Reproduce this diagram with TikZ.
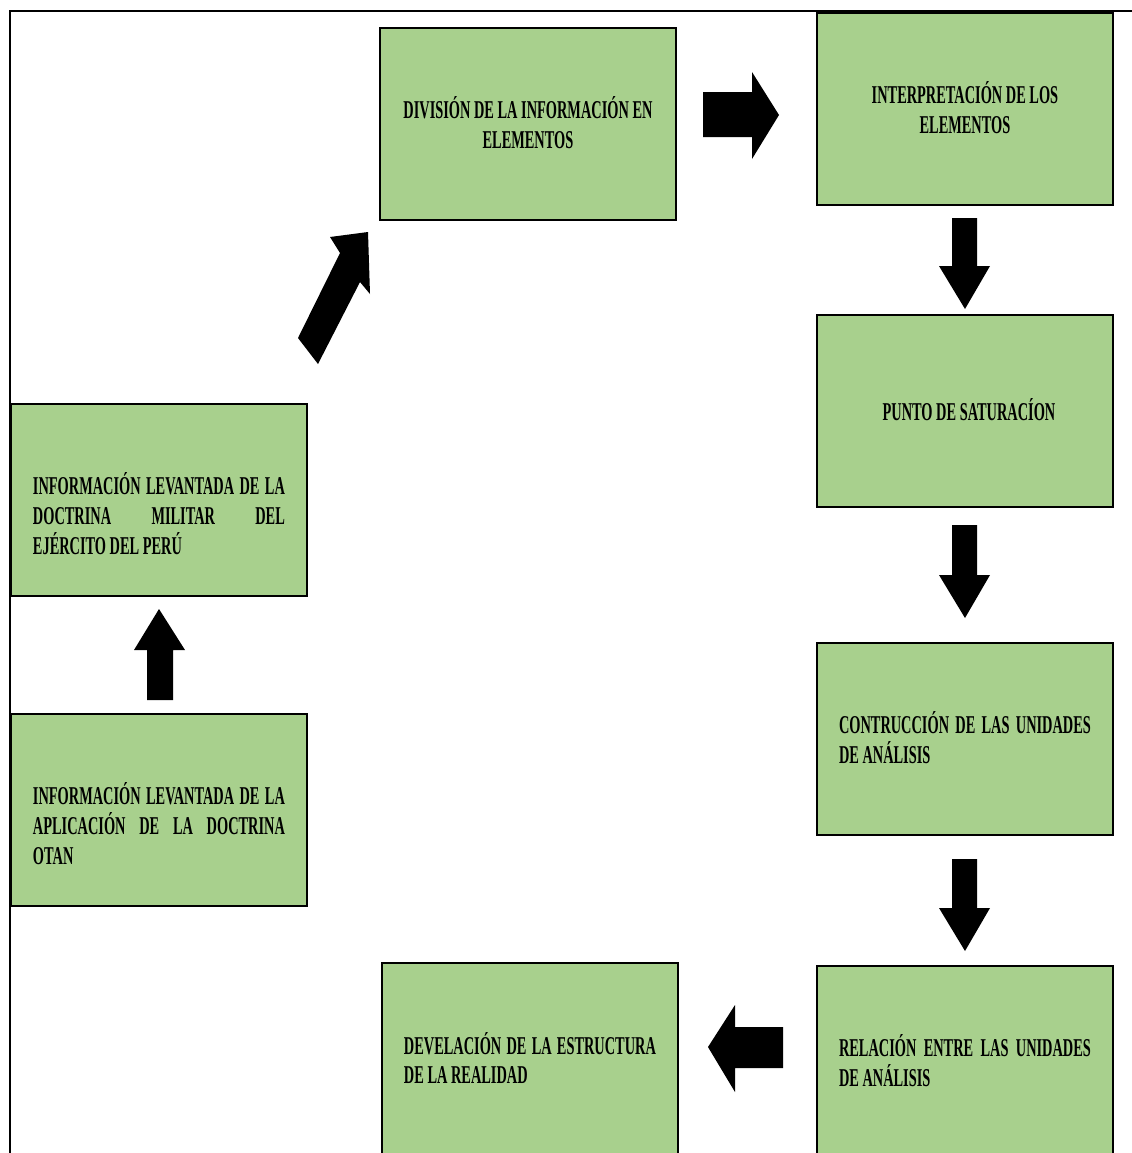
\documentclass[tikz,border=0pt]{standalone}
\usepackage{fontspec}
\setmainfont{Liberation Serif}[FakeStretch=0.56]
\definecolor{boxgreen}{HTML}{A8D08D}
\newcommand{\boxfont}{\bfseries\fontsize{14.6}{17}\selectfont\hyphenpenalty=10000\relax\tolerance=9999\relax}
\tikzset{
  box/.style={draw=black, fill=boxgreen, line width=0.9pt, minimum width=5.92cm, minimum height=3.84cm, inner sep=0pt, outer sep=0pt},
  txt/.style={text width=5.04cm, inner sep=0pt, font=\boxfont},
  jtxt/.style={txt, align=justify},
  ctxt/.style={txt, text width=5.6cm, align=flush center},
  blockarrow/.style={fill=black, draw=none},
  frame/.style={line width=1.1pt, draw=black}
}
\begin{document}
\begin{tikzpicture}[x=0.02cm, y=-0.02cm]
\useasboundingbox (0,0) rectangle (1132,1153);
\clip (0,0) rectangle (1132,1153);
\fill[white] (0,0) rectangle (1132,1153);
% page frame
\coordinate (fbl) at (10,1160);
\coordinate (ftl) at (10,11);
\coordinate (ftr) at (1140,11);
\draw[frame] (fbl) -- (ftl) -- (ftr);

% boxes
\node[box, anchor=north west] (div) at (380,28) {};
\node[box, anchor=north west] (int) at (817,13) {};
\node[box, anchor=north west] (pun) at (817,315) {};
\node[box, anchor=north west] (con) at (817,643) {};
\node[box, anchor=north west] (rel) at (817,966) {};
\node[box, anchor=north west] (dev) at (382,963) {};
\node[box, anchor=north west] (eje) at (11,404) {};
\node[box, anchor=north west] (otan) at (11,714) {};

% texts
\node[ctxt] (tdiv) at ([yshift=0.03cm]div.center) {DIVISIÓN DE LA INFORMACIÓN EN\\ ELEMENTOS};
\node[ctxt] (tint) at ([yshift=0.02cm]int.center) {INTERPRETACIÓN DE LOS\\ ELEMENTOS};
\node[ctxt] (tpun) at ([xshift=0.08cm,yshift=0.02cm]pun.center) {PUNTO DE SATURACÍON};
\node[jtxt] (tcon) at ([yshift=0.03cm]con.center) {CONTRUCCIÓN DE LAS UNIDADES\linebreak DE ANÁLISIS};
\node[jtxt] (trel) at ([yshift=0.03cm]rel.center) {RELACIÓN ENTRE LAS UNIDADES\linebreak DE ANÁLISIS};
\node[jtxt] (tdev) at ([yshift=0.02cm]dev.center) {DEVELACIÓN DE LA ESTRUCTURA\linebreak DE LA REALIDAD};
\node[jtxt] (teje) at ([yshift=-0.28cm]eje.center) {INFORMACIÓN LEVANTADA DE LA\linebreak DOCTRINA MILITAR DEL\linebreak EJÉRCITO DEL PERÚ};
\node[jtxt] (totan) at ([yshift=-0.28cm]otan.center) {INFORMACIÓN LEVANTADA DE LA\linebreak APLICACIÓN DE LA DOCTRINA\linebreak OTAN};

% block arrows
% otan -> eje (up)
\fill[blockarrow] (147,700) -- (173,700) -- (173,650) -- (185,650) -- (159,609) -- (134,650) -- (147,650) -- cycle;
% eje -> div (diagonal)
\fill[blockarrow] (298,338) -- (318,364) -- (360,282) -- (370,294) -- (368,232) -- (330,237) -- (340,253) -- cycle;
% div -> int (right)
\fill[blockarrow] (703,92) -- (752,92) -- (752,72) -- (779,115) -- (752,159) -- (752,137) -- (703,137) -- cycle;
% int -> pun (down)
\fill[blockarrow] (952,218) -- (977,218) -- (977,266) -- (990,266) -- (965,309) -- (939,266) -- (952,266) -- cycle;
% pun -> con (down)
\fill[blockarrow] (952,525) -- (977,525) -- (977,575) -- (990,575) -- (965,618) -- (939,575) -- (952,575) -- cycle;
% con -> rel (down)
\fill[blockarrow] (952,859) -- (977,859) -- (977,908) -- (990,908) -- (965,951) -- (939,908) -- (952,908) -- cycle;
% rel -> dev (left)
\fill[blockarrow] (783,1027) -- (735,1027) -- (735,1005) -- (708,1047) -- (735,1092) -- (735,1068) -- (783,1068) -- cycle;
\end{tikzpicture}
\end{document}
